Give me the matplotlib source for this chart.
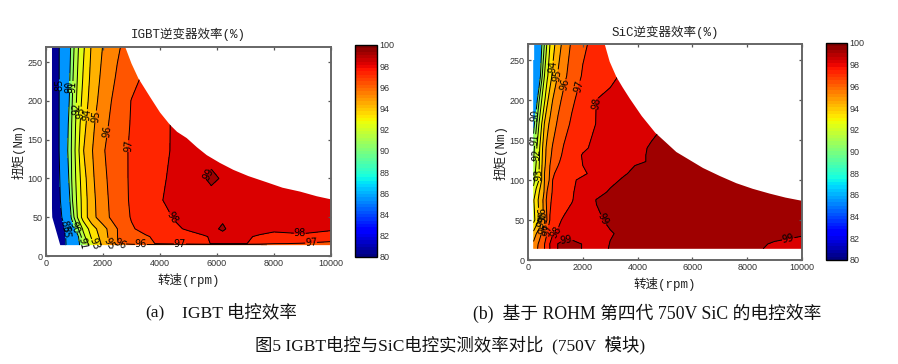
import numpy as np
import matplotlib
matplotlib.use("Agg")
import matplotlib.pyplot as plt
from matplotlib.patches import Polygon
from matplotlib.cm import ScalarMappable
from matplotlib.colors import Normalize

igbt_speed = [200,450,700,900,1100,1300,1600,2000,2500,3000,3500,4000,4500,5000,5500,5800,6200,6500,7000,7500,8000,9000,10000]
igbt_torque = [14,16,25,35,50,72,100,136,170,200,230,270]
igbt_eff = [
 [80,82.2,85,87.2,89.4,91,92.67,94.2,95.4,95.5,95.5,95.5,95.5,95.5,95.5,95.5,95.5,95.5,95.5,95.8,96.2,96.2,96.2],
 [80,82.2,85,87.2,89.4,91,92.67,94.29,95.98,96.39,96.79,97.12,97.37,97.62,97.87,98.02,98.1,98.1,98.05,97.6,97.05,96.95,96.8],
 [80,82.2,85.1,87.4,89.6,91.65,93.14,94.49,95.99,96.46,96.92,97.2,97.44,97.69,97.93,98.05,98.1,98.1,98.1,97.9,97.7,97.85,97.5],
 [80,82.5,85.35,88.6,90.75,92.14,93.52,94.63,95.99,96.91,97.27,97.56,97.86,98.1,98.25,98.3,99.4,98.3,98.3,98.3,98.2,98.25,98.15],
 [80,83.7,86.8,90.3,92,93.4,94.6,95.63,96.46,97.06,97.35,97.7,98.05,98.3,98.45,98.5,98.5,98.5,98.5,98.45,98.4,98.4,98.4],
 [80.5,84.1,88.2,90.8,92.2,93.4,94.64,95.71,96.48,97.14,97.55,97.95,98.2,98.4,98.5,98.6,98.65,98.65,98.6,98.6,98.6,98.6,98.6],
 [81,84.4,89.02,91,92.4,93.55,94.78,95.78,96.57,97.14,97.5,97.84,98.2,98.5,98.9,99.2,98.9,98.7,98.6,98.6,98.6,98.6,98.6],
 [82,84.8,89.5,91.09,92.62,93.93,94.92,95.91,96.61,97.13,97.45,97.77,98.1,98.35,98.5,98.6,98.6,98.6,98.6,98.6,98.6,98.6,98.6],
 [82,84.8,89.3,91,92.44,93.6,94.74,95.7,96.47,97.07,97.41,97.75,98.1,98.3,98.4,98.4,98.4,98.4,98.4,98.4,98.4,98.4,98.4],
 [82,84.8,88.84,90.84,92.22,93.3,94.48,95.48,96.36,97.03,97.35,97.68,98,98.2,98.3,98.3,98.3,98.3,98.3,98.3,98.3,98.3,98.3],
 [82,84.8,88.5,90.67,92,93.05,94.3,95.27,96.12,96.7,97.19,97.56,97.93,98.1,98.3,98.3,98.3,98.3,98.3,98.3,98.3,98.3,98.3],
 [82,84.8,88.1,90.4,91.8,92.8,94.1,95.04,95.85,96.5,97.07,97.4,97.8,98.1,98.2,98.3,98.4,98.4,98.4,98.4,98.4,98.4,98.4],
]
igbt_limit_speed = [219,210,210,2773,3000,3240,3650,4000,4352,4600,4937,5300,5640,6100,6575,7100,7745,8300,8915,9500,10000,10000,500]
igbt_limit_torque = [50,62,270,270,248,229,205,185,169,160,152,140,130,120,111,103,95,88,83,77,73,14,14]

sic_speed = [200,300,400,500,600,700,800,900,1100,1300,1600,2000,2500,3000,3500,4000,4500,5000,6000,7000,8000,8500,9000,10000]
sic_torque = [14,20,33,50,75,85,100,108,118,123,131,140,170,200,230,270]
sic_eff = [
 [95.3,95.8,96.2,96.6,97,97.5,98,98.3,99.05,99.4,99.4,98.95,98.7,99.05,99.1,99.1,99.1,99.1,99.1,99.1,99.1,99.03,98.85,98.75],
 [95.23,95.7,96.14,96.56,96.97,97.5,98.03,98.3,99.05,99.4,99.4,98.95,98.7,99.02,99.1,99.1,99.1,99.1,99.1,99.1,99.1,99.05,98.95,98.85],
 [94.3,94.97,95.52,96.06,96.55,97.03,97.5,97.95,98.1,98.2,98.35,98.5,98.75,98.96,99.1,99.15,99.2,99.2,99.2,99.2,99.2,99.2,99.15,99.05],
 [92.67,93.33,94,94.63,95.3,96.07,97.03,97.3,97.85,98.1,98.3,98.56,98.9,99.1,99.2,99.2,99.25,99.25,99.25,99.25,99.25,99.25,99.25,99.2],
 [92.9,93.6,94.17,94.66,95.4,96.32,96.91,97.1,97.34,97.59,97.95,98.44,99.03,99.2,99.25,99.3,99.3,99.3,99.3,99.3,99.3,99.3,99.3,99.3],
 [92.3,93.27,93.93,94.5,95.1,96.06,96.73,97.07,97.3,97.55,97.93,98.3,98.7,99.1,99.2,99.25,99.3,99.3,99.3,99.3,99.3,99.3,99.3,99.3],
 [91.7,92.4,93,94,95,95.56,96.17,97,97.25,97.5,97.88,98.18,98.49,98.79,99.1,99.2,99.3,99.3,99.3,99.3,99.3,99.3,99.3,99.3],
 [91.5,92.3,93,94,95,95.5,96.1,96.9,97.2,97.38,97.63,97.88,98.25,98.6,98.93,99.2,99.3,99.3,99.3,99.3,99.3,99.3,99.3,99.3],
 [91.2,92.1,92.9,93.9,94.85,95.4,96,96.5,97,97.3,97.6,98,98.27,98.53,98.8,99.05,99.2,99.3,99.3,99.3,99.3,99.3,99.3,99.3],
 [91,92,92.85,93.85,94.8,95.35,95.9,96.4,96.9,97.25,97.6,98.02,98.23,98.44,98.65,98.85,99.1,99.3,99.3,99.3,99.3,99.3,99.3,99.3],
 [90.85,91.9,92.8,93.8,94.7,95.3,95.8,96.2,96.75,97.15,97.65,98.05,98.25,98.47,98.68,98.85,99.1,99.25,99.3,99.3,99.3,99.3,99.3,99.3],
 [90.6,91.8,92.73,93.7,94.64,95.26,95.7,96.08,96.59,97.05,97.6,97.88,98.18,98.4,98.62,98.84,99.07,99.2,99.3,99.3,99.3,99.3,99.3,99.3],
 [89.6,90.8,92,93,94.06,94.69,95.19,95.56,96.18,96.64,97.14,97.56,98.03,98.22,98.42,98.61,98.81,99,99.2,99.3,99.3,99.3,99.3,99.3],
 [87,89.4,90.88,92,92.83,93.8,94.44,95,95.71,96.24,96.84,97.4,98.01,98.18,98.36,98.53,98.7,98.88,99.15,99.25,99.25,99.25,99.25,99.25],
 [86,87.7,89.1,90.75,92,92.83,93.57,94.19,95.1,95.74,96.44,97.09,97.45,97.83,98.12,98.32,98.52,98.73,99.1,99.2,99.2,99.2,99.2,99.2],
 [86,87.9,88.9,89.9,91.05,92.15,92.98,93.6,94.57,95.3,96.15,96.84,97.3,97.66,98.01,98.23,98.45,98.66,99.05,99.2,99.2,99.2,99.2,99.2],
]
sic_limit_speed = [225,225,190,190,10000,10000,9400,8820,8200,7603,7000,6387,5900,5413,5000,4647,4150,3710,3450,3224,2980,2798]
sic_limit_torque = [270,250,250,14,14,74,78,83,89,96,105,115,125,135,148,159,180,202,216,229,248,270]

levels = [80,85,90,91,92,93,94,95,96,97,98,99,100]
colorbar_ticks = [80,82,84,86,88,90,92,94,96,98,100]
speed_ticks = [0,2000,4000,6000,8000,10000]
torque_ticks = [0,50,100,150,200,250]

igbt_label_at = [(433,220),(842,218),(975,218),(1018,190),(1200,185),(1400,182),(1720,180),(2120,160),
                 (2810,142),(4420,50),(8900,27),(9300,17),(3330,14.5),(4700,15.6),(5720,105),
                 (450,36),(760,35),(950,36),(1370,17),(1620,15),(2130,15),(2600,14.5)]
sic_label_at = [(280,181),(255,150),(316,132),(414,106),(852,242),(1083,231),(1326,219),(1825,217),(2433,196),
                (2700,50),(9500,26),(1400,26),(365,58),(462,54),(580,48),(600,38),(800,36),(1070,34)]

W, H = 898, 364
def rect(x0, y0, x1, y1):
    return [x0/W, 1-y1/H, (x1-x0)/W, (y1-y0)/H]

MONO = ['Liberation Mono', 'Noto Sans CJK SC']
SERIF = ['Liberation Serif', 'Noto Sans CJK SC']
SANS = 'Liberation Sans'
cmap = plt.get_cmap('jet', 64)
norm = Normalize(80, 100)
jet = plt.get_cmap('jet')
band_colors = [jet((v-80)/20 + 0.02) for v in levels[:-1]]

fig = plt.figure(figsize=(W/100, H/100), dpi=100)

def panel(box, cbox, speed, torque, eff, lim_s, lim_t, title, label_at):
    ax = fig.add_axes(rect(*box))
    clip = Polygon(np.column_stack([lim_s, lim_t]), closed=True, transform=ax.transData,
                   fc='none', ec='none')
    ax.add_patch(clip)
    cf = ax.contourf(speed, torque, eff, levels=levels, colors=band_colors)
    cl = ax.contour(speed, torque, eff, levels=levels[1:-1], colors='k', linewidths=0.7)
    cf.set_clip_path(clip)
    cl.set_clip_path(clip)
    ax.clabel(cl, cl.levels, manual=label_at, fmt='%d', fontsize=7, inline=True, inline_spacing=0,
              colors='k')
    ax.set_xlim(0, 10000)
    ax.set_ylim(0, 270)
    ax.set_xticks(speed_ticks)
    ax.set_yticks(torque_ticks)
    ax.tick_params(direction='in', length=2.5, width=0.9, color='#555555', top=True, right=True,
                   labelsize=6.5, labelcolor='#333333', pad=2.5)
    for t in ax.get_xticklabels() + ax.get_yticklabels():
        t.set_fontfamily(SANS)
    for s in ax.spines.values():
        s.set_color('#666666')
        s.set_linewidth(1.4)
    ax.set_title(title, family=MONO, fontsize=9, pad=6, color='#222222')
    ax.set_xlabel('转速(rpm)', family=MONO, fontsize=9, labelpad=3, color='#222222')
    ax.set_ylabel('扭矩(Nm)', family=MONO, fontsize=9, labelpad=1.5, color='#222222')

    cax = fig.add_axes(rect(*cbox))
    cb = fig.colorbar(ScalarMappable(norm=norm, cmap=cmap), cax=cax, ticks=colorbar_ticks)
    cb.outline.set_linewidth(1.0)
    cax.tick_params(length=0, labelsize=6.5, labelcolor='#333333', pad=2)
    for t in cax.get_yticklabels():
        t.set_fontfamily(SANS)

panel((46, 46.5, 331, 256), (355, 45, 377, 257), igbt_speed, igbt_torque, igbt_eff,
      igbt_limit_speed, igbt_limit_torque, 'IGBT逆变器效率(%)', igbt_label_at)
panel((528, 44, 802, 260), (826, 43, 847, 260), sic_speed, sic_torque, sic_eff,
      sic_limit_speed, sic_limit_torque, 'SiC逆变器效率(%)', sic_label_at)

fig.text(145/W, 1-313/H, '(a)', family=SERIF, fontsize=12.6, va='center', color='#111111')
fig.text(182/W, 1-313/H, 'IGBT 电控效率', family=SERIF, fontsize=12.6, va='center', color='#111111')
fig.text(473/W, 1-313/H, '(b)  基于 ROHM 第四代 750V SiC 的电控效率', family=SERIF, fontsize=12.8, va='center', color='#111111')
fig.text(255/W, 1-345/H, '图5 IGBT电控与SiC电控实测效率对比  (750V  模块)', family=SERIF, fontsize=12.5, va='center', color='#111111')

fig.savefig('out.png', dpi=100)
